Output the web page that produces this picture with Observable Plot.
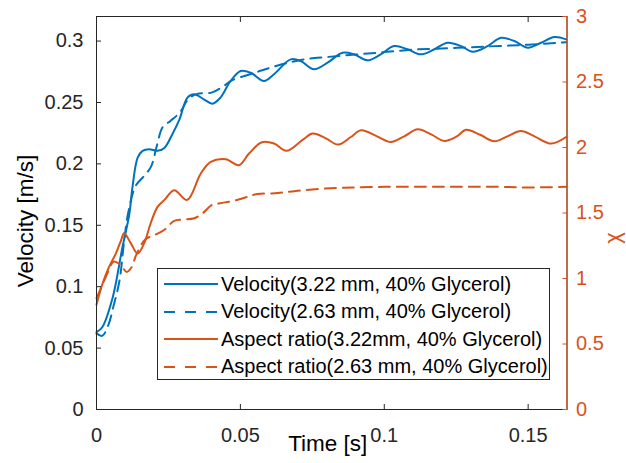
<!DOCTYPE html>
<html><head><meta charset="utf-8">
<script src="https://cdn.jsdelivr.net/npm/d3@7"></script>
<script src="https://cdn.jsdelivr.net/npm/@observablehq/plot@0.6"></script>
<style>
html,body{margin:0;padding:0;background:#fff;}
#wrap{position:relative;width:626px;height:463px;font-family:"Liberation Sans",Arial,Helvetica,sans-serif;}
#legend{position:absolute;left:157px;top:268px;width:391px;height:110px;border:1px solid #262626;background:#fff;}
.row{position:absolute;left:0;height:28px;display:flex;align-items:center;font-size:20px;color:#000;white-space:nowrap;}
.row svg{flex:none;}
.row span{margin-left:3px;}
</style></head>
<body><div id="wrap"><div id="legend"></div></div>
<script>
// ---- data ----
const velSolidT = [0,0.002,0.0056,0.009,0.0114,0.0125,0.0143,0.016,0.0183,0.0212,0.0236,0.0264,0.0288,0.0316,0.0339,0.0373,0.0403,0.0431,0.0466,0.0501,0.0536,0.0582,0.0617,0.0675,0.071,0.0756,0.0803,0.0855,0.0895,0.0942,0.0988,0.1034,0.1081,0.1127,0.1174,0.122,0.1267,0.1307,0.1359,0.1406,0.1452,0.1499,0.1545,0.1591,0.1632];
const velSolidV = [0.063,0.067,0.091,0.132,0.159,0.181,0.205,0.2106,0.212,0.2106,0.213,0.2244,0.236,0.254,0.2567,0.2526,0.249,0.254,0.2675,0.2756,0.2742,0.2675,0.273,0.2851,0.2837,0.277,0.2824,0.2905,0.2892,0.2843,0.2892,0.2959,0.2933,0.2892,0.2933,0.2986,0.2959,0.2913,0.2959,0.3027,0.300,0.2946,0.2986,0.3033,0.3014];

const velDashT = [0,0.002,0.004,0.006,0.008,0.0095,0.011,0.0136,0.0165,0.019,0.021,0.023,0.0257,0.029,0.032,0.035,0.040,0.044,0.047,0.052,0.056,0.060,0.066,0.072,0.080,0.090,0.100,0.110,0.120,0.130,0.140,0.150,0.1632];
const velDashV = [0.062,0.060,0.068,0.085,0.105,0.135,0.16,0.182,0.19,0.198,0.215,0.23,0.235,0.242,0.253,0.257,0.258,0.263,0.268,0.272,0.275,0.278,0.282,0.285,0.287,0.289,0.291,0.293,0.294,0.295,0.296,0.297,0.299];

const chiSolidT = [0,0.0021,0.0044,0.0067,0.0085,0.0096,0.0119,0.0143,0.0166,0.0188,0.0212,0.0236,0.027,0.0315,0.0362,0.0397,0.0449,0.0495,0.053,0.0575,0.0617,0.066,0.0717,0.0751,0.0797,0.084,0.0884,0.0919,0.0975,0.1023,0.1069,0.1116,0.1163,0.1208,0.1252,0.1284,0.1333,0.1382,0.1428,0.1475,0.1522,0.158,0.1632];
const chiSolidV = [0.80,0.96,1.09,1.19,1.29,1.345,1.27,1.19,1.27,1.42,1.547,1.60,1.674,1.60,1.80,1.89,1.91,1.865,1.954,2.04,2.03,1.975,2.06,2.106,2.07,2.022,2.08,2.131,2.085,2.042,2.085,2.139,2.10,2.05,2.085,2.136,2.097,2.047,2.085,2.126,2.085,2.03,2.08];

const chiDashT = [0,0.002,0.004,0.006,0.0085,0.0105,0.012,0.014,0.017,0.020,0.0235,0.027,0.030,0.034,0.037,0.040,0.043,0.047,0.052,0.056,0.062,0.068,0.075,0.083,0.090,0.100,0.110,0.120,0.130,0.140,0.150,0.1632];
const chiDashV = [0.85,0.95,1.05,1.13,1.10,1.05,1.08,1.19,1.30,1.33,1.37,1.44,1.45,1.46,1.50,1.56,1.575,1.59,1.62,1.645,1.65,1.665,1.68,1.69,1.695,1.70,1.70,1.70,1.70,1.70,1.695,1.70];

const seriesNames = ["Velocity(3.22 mm, 40% Glycerol)","Velocity(2.63 mm, 40% Glycerol)","Aspect ratio(3.22mm, 40% Glycerol)","Aspect ratio(2.63 mm, 40% Glycerol)"];
const xTicks = [0,0.05,0.1,0.15];
const xTickLabels = ["0","0.05","0.1","0.15"];
const velTicks = [0,0.05,0.1,0.15,0.2,0.25,0.3];
const velTickLabels = ["0","0.05","0.1","0.15","0.2","0.25","0.3"];
const chiTicks = [0,0.5,1,1.5,2,2.5,3];
const chiTickLabels = ["0","0.5","1","1.5","2","2.5","3"];
const axisLabels = {x:"Time [s]", yLeft:"Velocity [m/s]", yRight:"χ"};
const X_MAX = 0.1635, VEL_MAX = 0.32, CHI_MAX = 3;

// ---- build ----
const BLUE = "#0072BD", ORANGE = "#D95319", AX = "#262626";
const k = VEL_MAX / CHI_MAX;
const zip = (ts, vs, s, scale=1) => ts.map((t,i)=>({t, v: vs[i]*scale, s}));
const rows = [
  ...zip(velSolidT, velSolidV, 0),
  ...zip(velDashT, velDashV, 1),
  ...zip(chiSolidT, chiSolidV, 2, k),
  ...zip(chiDashT, chiDashV, 3, k)
];
const styles = [
  {stroke: BLUE, dash: null},
  {stroke: BLUE, dash: "11,7"},
  {stroke: ORANGE, dash: null},
  {stroke: ORANGE, dash: "11,7"}
];
const labelFor = (ticks, labels) => d => labels[ticks.findIndex(c => Math.abs(c - d) < 1e-9)];

const chart = Plot.plot({
  width: 626, height: 463,
  marginLeft: 96, marginRight: 59.5, marginTop: 16, marginBottom: 54,
  style: {fontFamily: "'Liberation Sans', Arial, Helvetica, sans-serif", fontSize: "20px", color: AX, background: "white", overflow: "visible"},
  x: {domain: [0, X_MAX]},
  y: {domain: [0, VEL_MAX]},
  marks: [
    ...styles.map((st, i) => Plot.line(rows.filter(d => d.s === i), {
      x: "t", y: "v", stroke: st.stroke, strokeWidth: 2, strokeDasharray: st.dash, curve: "catmull-rom"
    })),
    Plot.frame({stroke: AX, strokeWidth: 1}),
    Plot.ruleX([X_MAX], {stroke: ORANGE, strokeWidth: 1.2}),
    Plot.axisX({ticks: xTicks, tickSize: -5, tickPadding: 23, tickFormat: labelFor(xTicks, xTickLabels), label: null, stroke: AX, fill: AX}),
    Plot.axisX({anchor: "top", ticks: xTicks.slice(1), tickSize: -5, tickFormat: () => "", label: null, stroke: AX}),
    Plot.axisY({ticks: velTicks, tickSize: -5, tickPadding: 18, tickFormat: labelFor(velTicks, velTickLabels), label: null, stroke: AX, fill: AX}),
    Plot.axisY({anchor: "right", ticks: chiTicks.map(c => c * k), tickSize: -5, tickPadding: 14,
      tickFormat: labelFor(chiTicks.map(c => c * k), chiTickLabels), label: null, stroke: ORANGE, fill: ORANGE}),
    Plot.text([axisLabels.yLeft], {frameAnchor: "left", textAnchor: "middle", lineAnchor: "middle", dx: -71, dy: 8, rotate: -90, fontSize: 22.5, fill: "#000"}),
    Plot.text([axisLabels.yRight], {frameAnchor: "right", textAnchor: "middle", lineAnchor: "middle", dx: 46, dy: 25, rotate: -90, fontSize: 22, fill: ORANGE}),
    Plot.text([axisLabels.x], {frameAnchor: "bottom", textAnchor: "middle", lineAnchor: "middle", dx: -4, dy: 34, fontSize: 22.5, fill: "#000"})
  ]
});
const wrap = document.getElementById("wrap");
wrap.insertBefore(chart, wrap.firstChild);

const legend = document.getElementById("legend");
seriesNames.forEach((name, i) => {
  const row = document.createElement("div");
  row.className = "row";
  row.style.top = (1 + i * 27.5) + "px";
  const st = styles[i];
  row.innerHTML = `<svg width="60" height="28"><line x1="6" x2="60" y1="14" y2="14" stroke="${st.stroke}" stroke-width="2" ${st.dash ? `stroke-dasharray="11,10"` : ""}/></svg><span>${name}</span>`;
  legend.appendChild(row);
});
</script>
</body></html>
